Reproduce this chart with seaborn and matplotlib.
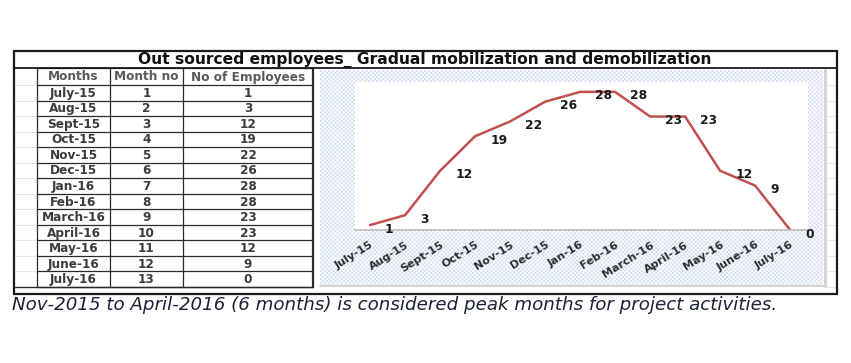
import matplotlib
matplotlib.use("Agg")
import matplotlib.pyplot as plt
import seaborn as sns
from matplotlib.patches import Rectangle

sns.set_theme(style="white")
plt.rcParams['font.family'] = ['DejaVu Sans']
plt.rcParams['hatch.linewidth'] = 0.5

# ---------------- data ----------------
months = ["July-15", "Aug-15", "Sept-15", "Oct-15", "Nov-15", "Dec-15", "Jan-16",
          "Feb-16", "March-16", "April-16", "May-16", "June-16", "July-16"]
month_no = [1, 2, 3, 4, 5, 6, 7, 8, 9, 10, 11, 12, 13]
employees = [1, 3, 12, 19, 22, 26, 28, 28, 23, 23, 12, 9, 0]
headers = ["Months", "Month no", "No of Employees"]
title = "Out sourced employees_ Gradual mobilization and demobilization"
caption = "Nov-2015 to April-2016 (6 months) is considered peak months for project activities."

W, H = 851, 363
fig = plt.figure(figsize=(W / 100, H / 100), dpi=100)
fig.patch.set_facecolor("white")

# background axes in pixel coordinates
bg = fig.add_axes([0, 0, 1, 1])
bg.set_xlim(0, W)
bg.set_ylim(H, 0)
bg.axis("off")

renderer = fig.canvas.get_renderer()


def fit_text(ax, x, y, s, target_w, **kw):
    t = ax.text(x, y, s, **kw)
    w = t.get_window_extent(renderer=renderer).width
    t.set_fontsize(t.get_fontsize() * target_w / w)
    return t


# outer box
bx0, by0, bx1, by1 = 14, 51, 837, 294
bg.add_patch(Rectangle((bx0, by0), bx1 - bx0, by1 - by0, fill=False,
                       edgecolor="#1a1a1a", linewidth=1.6, zorder=5))
bg.plot([bx0, bx1], [68, 68], color="#1a1a1a", lw=1.3, zorder=5)

# title
fit_text(bg, 425, 59.5, title, 575, ha="center", va="center",
         fontweight="bold", fontsize=10, color="#111111")

# table
col_x = [37, 110, 183, 313]
row_top, head_bot, tab_bot = 68, 85, 287
nrows = len(months)
rh = (tab_bot - head_bot) / nrows
row_edges = [head_bot + i * rh for i in range(nrows + 1)]

for yy in [row_top] + row_edges:
    bg.plot([bx0, col_x[0]], [yy, yy], color="#e3e3e3", lw=0.8, zorder=2)
for yy in [row_top] + row_edges:
    bg.plot([col_x[0], col_x[-1]], [yy, yy], color="#2a2a2a", lw=0.9, zorder=3)
for xx in col_x:
    bg.plot([xx, xx], [row_top, tab_bot], color="#2a2a2a",
            lw=1.6 if xx == col_x[-1] else 0.9, zorder=3)
bg.plot([bx0, col_x[-1]], [tab_bot, tab_bot], color="#2a2a2a", lw=1.0, zorder=3)

centers = [(col_x[i] + col_x[i + 1]) / 2 for i in range(3)]
ht = fit_text(bg, centers[2], (row_top + head_bot) / 2 + 0.5, headers[2], 114,
              ha="center", va="center", fontweight="bold", fontsize=8, color="#5a5a5a")
fs = ht.get_fontsize()
for i in range(2):
    bg.text(centers[i], (row_top + head_bot) / 2 + 0.5, headers[i], ha="center",
            va="center", fontweight="bold", fontsize=fs, color="#5a5a5a")
for r in range(nrows):
    yc = head_bot + rh * (r + 0.5) + 0.5
    for i, val in enumerate([months[r], month_no[r], employees[r]]):
        bg.text(centers[i], yc, str(val), ha="center", va="center",
                fontweight="bold", fontsize=fs, color="#3c3c3c")

# chart area with hatch
bg.add_patch(Rectangle((320, 70), 503, 215, facecolor="white", edgecolor="#cfdcef",
                       linewidth=0, hatch="xxxxxxxx", zorder=1))
bg.plot([824.5, 824.5], [70, 286], color="#d4d4d4", lw=2.2, zorder=2)
bg.plot([320, 825], [286, 286], color="#d4d4d4", lw=1.5, zorder=2)
for yy in row_edges:
    bg.plot([826, bx1], [yy, yy], color="#e6e6e6", lw=0.8, zorder=2)

# caption
fit_text(bg, 12, 305, caption, 763, ha="left", va="center", fontstyle="italic",
         fontsize=10, color="#1c2235")

# ---------------- line chart ----------------
px0, px1, py0, py1 = 355, 808, 82, 230
ax = fig.add_axes([px0 / W, (H - py1) / H, (px1 - px0) / W, (py1 - py0) / H])
ax.set_facecolor("white")
xpos = list(range(len(months)))
sns.lineplot(x=xpos, y=employees, color="#C0504D", linewidth=1.8, ax=ax,
             sort=False)
ax.set_xlim(-0.43, 12.51)
ax.set_ylim(0, 30)
ax.set_yticks([])
ax.set_xticks(xpos)
ax.set_xticklabels(months, rotation=32, ha="right", rotation_mode="anchor",
                   fontsize=8, fontweight="bold", color="#2e2e2e")
ax.tick_params(axis="x", length=0, pad=7)
for s in ["left", "top", "right"]:
    ax.spines[s].set_visible(False)
ax.spines["bottom"].set_color("#bdbdbd")
ax.spines["bottom"].set_linewidth(1.2)
ax.set_xlabel("")
ax.set_ylabel("")
for i, v in enumerate(employees):
    ax.annotate(str(v), (i, v), xytext=(15, -4), textcoords="offset pixels",
                ha="left", va="center", fontsize=8.8, fontweight="bold",
                color="#1a1a1a")

fig.savefig("out.png", dpi=100)
